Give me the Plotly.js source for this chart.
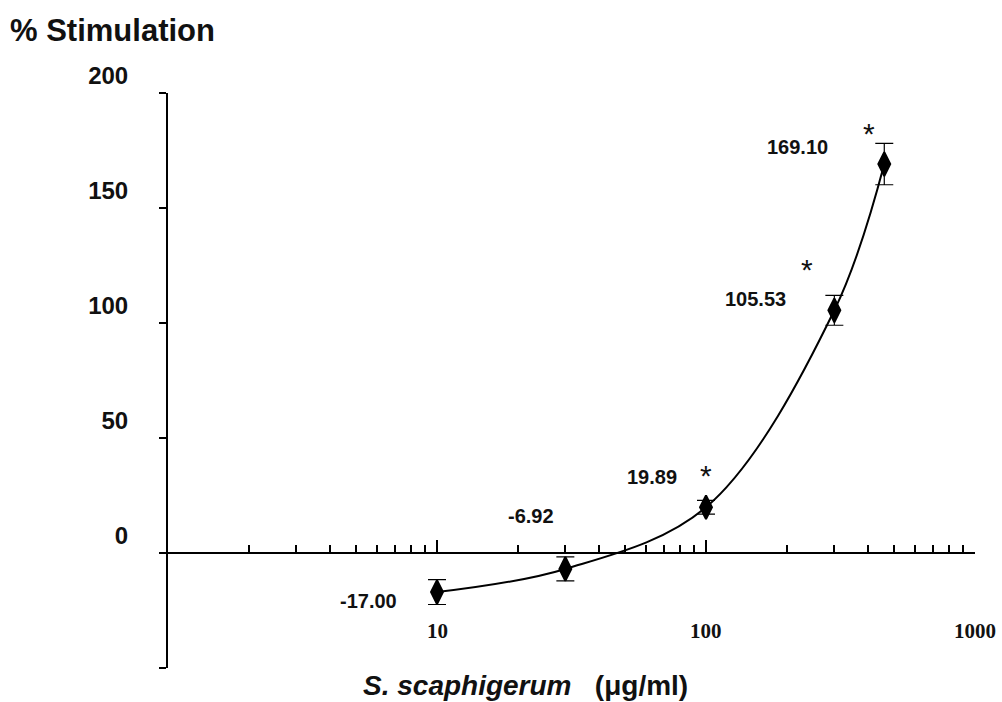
<!DOCTYPE html>
<html>
<head>
<meta charset="utf-8">
<script src="https://cdn.plot.ly/plotly-3.0.1.min.js"></script>
<style>html,body{margin:0;padding:0;background:#fff;}#chart{width:1002px;height:702px;}</style>
</head>
<body>
<div id="chart"></div>
<script>
// ---- data ----
const concentrations = [10, 30, 100, 300, 460];          // µg/ml
const stimulation = [-17.00, -6.92, 19.89, 105.53, 169.10]; // % stimulation
const errors = [5.4, 5.2, 3, 6.5, 9];
const significant = [false, false, true, true, true];
const xTickValues = [10, 100, 1000];
const yTickValues = [-50, 0, 50, 100, 150, 200];
const yTickLabels = ['', '0', '50', '100', '150', '200'];

// ---- label offsets (px) ----
const labelShift = [[-69, -9], [-34, 53], [-54, 30], [-79, 11], [-87, 17]];
const starShift = [null, null, [0, 32], [-27, 41], [-15, 31]];

const sans = 'Liberation Sans, Arial, sans-serif';
const serif = 'Liberation Serif, Times New Roman, serif';

const trace = {
  x: concentrations,
  y: stimulation,
  type: 'scatter',
  mode: 'lines+markers',
  line: {color: '#000', width: 2, shape: 'spline', smoothing: 1},
  marker: {symbol: 'diamond-tall', size: 17, color: '#000', line: {color: '#000', width: 2}},
  error_y: {type: 'data', array: errors, visible: true, color: '#000', thickness: 1.2, width: 9},
  cliponaxis: false,
  hoverinfo: 'skip'
};

const annotations = [];
concentrations.forEach((c, i) => {
  annotations.push({
    x: Math.log10(c), y: stimulation[i], xref: 'x', yref: 'y',
    text: '<b>' + stimulation[i].toFixed(2) + '</b>', showarrow: false,
    xanchor: 'center', yanchor: 'middle',
    xshift: labelShift[i][0], yshift: labelShift[i][1],
    font: {family: sans, size: 20, color: '#111'}
  });
  if (significant[i]) {
    annotations.push({
      x: Math.log10(c), y: stimulation[i], xref: 'x', yref: 'y',
      text: '*', showarrow: false, xanchor: 'center', yanchor: 'middle',
      xshift: starShift[i][0], yshift: starShift[i][1],
      font: {family: sans, size: 30, color: '#111'}
    });
  }
});
xTickValues.forEach(v => {
  annotations.push({
    x: Math.log10(v), y: -34, xref: 'x', yref: 'y',
    text: '<b>' + v + '</b>', showarrow: false, xanchor: 'center', yanchor: 'middle',
    font: {family: serif, size: 21, color: '#111'}
  });
});
annotations.push({
  x: 0.240, y: -0.031, xref: 'paper', yref: 'paper', xanchor: 'left', yanchor: 'middle',
  text: '<b><i>S. scaphigerum</i>   (\u03bcg/ml)</b>', showarrow: false, borderpad: 0,
  font: {family: sans, size: 28, color: '#111'}
});

const layout = {
  width: 1002, height: 702,
  margin: {l: 168, r: 27, t: 93, b: 34},
  paper_bgcolor: '#fff', plot_bgcolor: '#fff',
  showlegend: false,
  title: {
    text: '<b>% Stimulation</b>', x: 0.01, xref: 'container', xanchor: 'left',
    y: 1 - 30 / 702, yref: 'container', yanchor: 'middle',
    font: {family: sans, size: 31, color: '#111'}
  },
  xaxis: {
    type: 'log', range: [0, 3], anchor: 'free', position: 0.2,
    showline: true, linecolor: '#000', linewidth: 2,
    showgrid: false, zeroline: false,
    tickmode: 'array', tickvals: xTickValues, ticks: 'inside', ticklen: 12, tickwidth: 2, tickcolor: '#000',
    showticklabels: false,
    minor: {dtick: 'D1', ticks: 'inside', ticklen: 7, tickwidth: 2, tickcolor: '#000', showgrid: false},
    automargin: false
  },
  yaxis: {
    range: [-50, 200], showline: true, linecolor: '#000', linewidth: 2,
    showgrid: false, zeroline: false,
    tickmode: 'array', tickvals: yTickValues, ticktext: yTickLabels.map(t => t ? '<b>' + t + '</b>' : ''),
    ticks: 'outside', ticklen: 7, tickwidth: 2, tickcolor: '#000',
    ticklabelstandoff: 26, ticklabelshift: -17,
    tickfont: {family: sans, size: 24, color: '#111'},
    automargin: false
  },
  annotations: annotations
};

Plotly.newPlot('chart', [trace], layout, {displayModeBar: false, staticPlot: true});
</script>
</body>
</html>
